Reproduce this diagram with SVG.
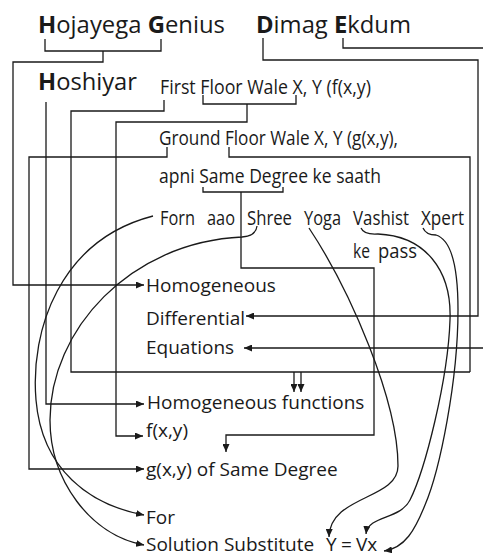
<svg xmlns="http://www.w3.org/2000/svg" width="483" height="556" viewBox="0 0 483 556">
<style>
text{font-family:"Open Sans","Noto Sans",sans-serif;fill:#1a1a1a}
.big{font-size:24px}
.mid{font-size:20px}
.lab{font-size:19px}
b,.b{font-weight:bold}
.c{fill:none;stroke:#1a1a1a;stroke-width:1.3}
.a{marker-end:url(#ah)}
</style>
<defs>
<marker id="ah" viewBox="0 0 8 7" refX="8" refY="3.5" markerWidth="8" markerHeight="7" markerUnits="userSpaceOnUse" orient="auto">
<path d="M0,0 L8,3.5 L0,7 z" fill="#1a1a1a"/>
</marker>
</defs>
<rect width="483" height="556" fill="#ffffff"/>

<g id="n-hojayega"><text class="big" x="38" y="33" textLength="187" lengthAdjust="spacingAndGlyphs"><tspan class="b">H</tspan>ojayega <tspan class="b">G</tspan>enius</text></g>
<g id="n-dimag"><text class="big" x="256" y="33" textLength="155" lengthAdjust="spacingAndGlyphs"><tspan class="b">D</tspan>imag <tspan class="b">E</tspan>kdum</text></g>
<g id="n-hoshiyar"><text class="big" x="38" y="90" font-size="23" textLength="99" lengthAdjust="spacingAndGlyphs"><tspan class="b">H</tspan>oshiyar</text></g>
<g id="n-first"><text class="mid" x="160" y="94" textLength="211" lengthAdjust="spacingAndGlyphs">First Floor Wale X, Y (f(x,y)</text></g>
<g id="n-ground"><text class="mid" x="159" y="145" textLength="239" lengthAdjust="spacingAndGlyphs">Ground Floor Wale X, Y (g(x,y),</text></g>
<g id="n-apni"><text class="mid" x="159" y="183" textLength="222" lengthAdjust="spacingAndGlyphs">apni Same Degree ke saath</text></g>
<g id="n-forn"><text class="mid" y="225"><tspan x="160" textLength="35" lengthAdjust="spacingAndGlyphs">Forn</tspan> <tspan x="207" textLength="28" lengthAdjust="spacingAndGlyphs">aao</tspan> <tspan x="247" textLength="45" lengthAdjust="spacingAndGlyphs">Shree</tspan> <tspan x="304" textLength="37" lengthAdjust="spacingAndGlyphs">Yoga</tspan> <tspan x="353" textLength="56" lengthAdjust="spacingAndGlyphs">Vashist</tspan> <tspan x="421" textLength="43" lengthAdjust="spacingAndGlyphs">Xpert</tspan></text></g>
<g id="n-kepass"><text class="mid" y="258"><tspan x="353" textLength="17" lengthAdjust="spacingAndGlyphs">ke</tspan> <tspan x="378" textLength="39" lengthAdjust="spacingAndGlyphs">pass</tspan></text></g>

<g id="n-homogeneous"><text class="lab" x="146" y="292">Homogeneous</text></g>
<g id="n-differential"><text class="lab" x="146" y="325">Differential</text></g>
<g id="n-equations"><text class="lab" x="146" y="354">Equations</text></g>
<g id="n-homfunc"><text class="lab" x="147" y="409">Homogeneous functions</text></g>
<g id="n-fxy"><text class="lab" x="146" y="437">f(x,y)</text></g>
<g id="n-gxy"><text class="lab" x="146" y="476">g(x,y) of Same Degree</text></g>
<g id="n-for"><text class="lab" x="146" y="524">For</text></g>
<g id="n-solution"><text class="lab" y="551"><tspan x="146">Solution Substitute</tspan> <tspan x="326">Y</tspan> <tspan x="341">=</tspan> <tspan x="356">Vx</tspan></text></g>

<g id="connectors">
<path class="c" d="M45,39 V51 H161 V39"/>
<path class="c a" d="M103,51 V62 H13 V285 H144"/>
<path class="c a" d="M46,102 V404 H144"/>
<path class="c" d="M164,100 V111 H71 V372 H470"/>
<path class="c" d="M229,147 V157 H470 V372"/>
<path class="c a" d="M294,372 V392"/>
<path class="c a" d="M301,372 V392"/>
<path class="c a" d="M167,147 V157 H29 V469 H144"/>
<path class="c" d="M203,95 V104 H296 V95"/>
<path class="c a" d="M247,104 V122 H116 V436 H143"/>
<path class="c a" d="M263,38 V60 H478 V316 H246"/>
<path class="c a" d="M343,38 V48 H490 V348 H244"/>
<path class="c" d="M203,187 V192 H283 V187"/>
<path class="c a" d="M241,192 V268 H374 V435 H226 V452"/>
<path class="c a" d="M153,216 C60,240 30,330 36,400 C42,470 90,505 144,515"/>
<path class="c a" d="M257,226 Q256,236 242,237 C130,242 50,330 50,420 C50,480 90,535 144,545"/>
<path class="c a" d="M309,228 C350,290 398,400 398,466 C398,500 330,495 329,537"/>
<path class="c a" d="M361,228 Q364,235 378,234 C425,236 452,270 450,320 C448,380 425,470 410,500 C400,520 368,515 366,534"/>
<path class="c a" d="M423,228 Q426,235 436,235 C452,240 458,270 458,310 C458,380 440,470 425,505 C415,530 405,548 384,551"/>
</g>
</svg>
